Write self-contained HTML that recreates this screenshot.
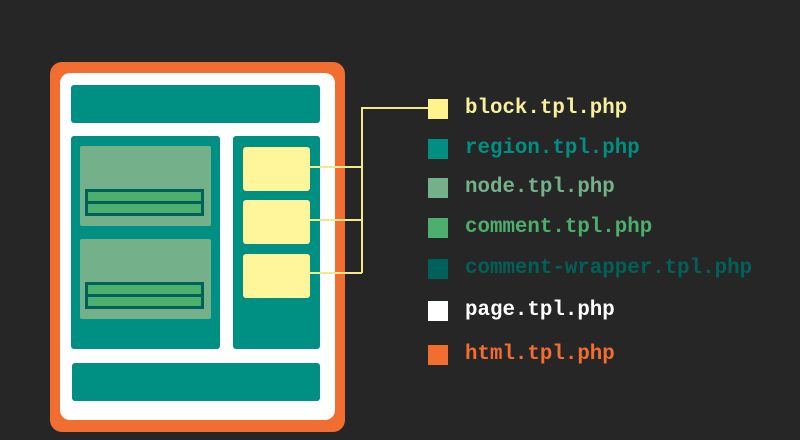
<!DOCTYPE html>
<html><head><style>
html,body{margin:0;padding:0;background:#262626;}
body{width:800px;height:440px;position:relative;overflow:hidden;font-family:"Liberation Mono",monospace;}
.a{position:absolute;}
.t{position:absolute;left:465px;font-weight:bold;font-size:20.8px;line-height:20px;}
.s{position:absolute;left:428px;width:20px;height:20px;}
</style></head><body>
<div class="a" style="left:50px;top:62px;width:295px;height:370px;background:#f26d30;border-radius:12px"></div>
<div class="a" style="left:60px;top:73px;width:275px;height:347px;background:#fff;border-radius:10px"></div>
<div class="a" style="left:71px;top:85px;width:249px;height:38px;background:#008f83;border-radius:3px"></div>
<div class="a" style="left:71px;top:136px;width:149px;height:213px;background:#008f83;border-radius:3px"></div>
<div class="a" style="left:233px;top:136px;width:87px;height:213px;background:#008f83;border-radius:3px"></div>
<div class="a" style="left:72px;top:363px;width:248px;height:38px;background:#008f83;border-radius:3px"></div>
<div class="a" style="left:80px;top:146px;width:131px;height:80px;background:#74b18b;border-radius:2px"></div>
<div class="a" style="left:80px;top:239px;width:131px;height:80px;background:#74b18b;border-radius:2px"></div>
<div class="a" style="left:85px;top:189px;width:113px;height:9px;background:#4caf6e;border:3px solid #00615b"></div>
<div class="a" style="left:85px;top:204px;width:113px;height:9px;background:#4caf6e;border:3px solid #00615b;border-top:none"></div>
<div class="a" style="left:85px;top:282px;width:113px;height:9px;background:#4caf6e;border:3px solid #00615b"></div>
<div class="a" style="left:85px;top:297px;width:113px;height:9px;background:#4caf6e;border:3px solid #00615b;border-top:none"></div>
<div class="a" style="left:243px;top:147px;width:67px;height:44px;background:#fff59a;border-radius:3px"></div>
<div class="a" style="left:243px;top:200px;width:67px;height:44px;background:#fff59a;border-radius:3px"></div>
<div class="a" style="left:243px;top:254px;width:67px;height:44px;background:#fff59a;border-radius:3px"></div>
<svg class="a" style="left:0;top:0" width="800" height="440">
<g stroke="#f3e88a" stroke-width="2" fill="none">
<path d="M310 167H362M310 220H362M310 273H362M362 273V108H430"/>
</g></svg>
<div class="s" style="top:99px;background:#fff38e"></div><div class="t" style="top:99px;color:#f7ef9b">block.tpl.php</div>
<div class="s" style="top:139px;background:#008f83"></div><div class="t" style="top:139px;color:#008f83">region.tpl.php</div>
<div class="s" style="top:178px;background:#74b18b"></div><div class="t" style="top:178px;color:#74b18b">node.tpl.php</div>
<div class="s" style="top:218px;background:#4caf6e"></div><div class="t" style="top:218px;color:#4caf6e">comment.tpl.php</div>
<div class="s" style="top:259px;background:#00615b"></div><div class="t" style="top:259px;color:#00615b">comment-wrapper.tpl.php</div>
<div class="s" style="top:301px;background:#fff"></div><div class="t" style="top:301px;color:#fff">page.tpl.php</div>
<div class="s" style="top:345px;background:#f26d30"></div><div class="t" style="top:345px;color:#f26d30">html.tpl.php</div>
</body></html>
